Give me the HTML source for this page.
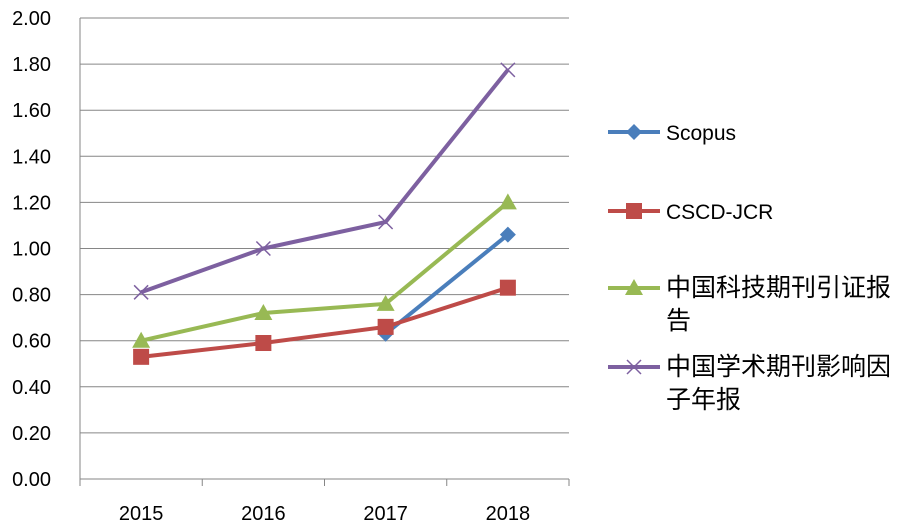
<!DOCTYPE html>
<html><head><meta charset="utf-8"><style>
body{margin:0;background:#fff;}
svg{display:block;font-family:"Liberation Sans","Noto Sans CJK SC",sans-serif;}
</style></head><body>
<svg id="chart" width="905" height="528"></svg>
<script>
const categories=["2015","2016","2017","2018"];
const scopus=[null,null,0.63,1.06];
const cscd=[0.53,0.59,0.66,0.83];
const cstpcd=[0.60,0.72,0.76,1.20];
const cajcd=[0.81,1.00,1.115,1.775];
const yTicks=[0,0.2,0.4,0.6,0.8,1.0,1.2,1.4,1.6,1.8,2.0];
const seriesNames=["Scopus","CSCD-JCR","中国科技期刊引证报告","中国学术期刊影响因子年报"];
const NS="http://www.w3.org/2000/svg";
const svg=document.getElementById('chart');
const L=80,R=569,T=18,B=479;
const y=v=>B-(v/2)*(B-T);
const bw=(R-L)/categories.length;
const x=i=>L+bw*(i+0.5);
function el(t,a,p){const e=document.createElementNS(NS,t);for(const k in a)e.setAttribute(k,a[k]);(p||svg).appendChild(e);return e;}
yTicks.forEach(v=>{
 const g=el('line',{x1:L,x2:R,y1:y(v),y2:y(v),stroke:'#868686','stroke-width':1});
 
 
 const t=el('text',{x:51,y:y(v)+7,'text-anchor':'end','font-size':20,fill:'#000'});
 t.textContent=v.toFixed(2);
 
 
});
const ax=el('line',{x1:L,x2:L,y1:T,y2:B,stroke:'#868686'});


for(let i=0;i<=categories.length;i++){
 const tk=el('line',{x1:L+bw*i,x2:L+bw*i,y1:B,y2:B+7,stroke:'#868686'});
 
 
}
categories.forEach((c,i)=>{
 const t=el('text',{x:x(i),y:520,'text-anchor':'middle','font-size':20});
 t.textContent=c;
 
 
});
function marker(kind,cx,cy,color,g){
 let m;
 if(kind==='d')m=el('polygon',{points:`${cx},${cy-8} ${cx+8},${cy} ${cx},${cy+8} ${cx-8},${cy}`,fill:color},g);
 else if(kind==='s')m=el('rect',{x:cx-8,y:cy-8,width:16,height:16,fill:color},g);
 else if(kind==='t')m=el('polygon',{points:`${cx},${cy-9} ${cx+9},${cy+7} ${cx-9},${cy+7}`,fill:color},g);
 else{m=el('path',{d:`M${cx-7},${cy-7}L${cx+7},${cy+7}M${cx+7},${cy-7}L${cx-7},${cy+7}`,stroke:color,'stroke-width':1.5,fill:'none'},g);}
 
 
}
const series=[[scopus,'#4a7ebb','d'],[cscd,'#be4b48','s'],[cstpcd,'#98b954','t'],[cajcd,'#7d60a0','x']];
series.forEach(([vals,color,kind],si)=>{
 const g=el('g',{});
 
 
 let d='';
 vals.forEach((v,i)=>{if(v!==null)d+=(d?'L':'M')+x(i)+','+y(v);});
 const p=el('path',{d:d,stroke:color,'stroke-width':4,fill:'none','stroke-linejoin':'round'},g);
 
 
 vals.forEach((v,i)=>{if(v!==null)marker(kind,x(i),y(v),color,g);});
});
const legY=[132,211,288,367];
series.forEach(([vals,color,kind],si)=>{
 const g=el('g',{});
 
 
 el('line',{x1:608,x2:660,y1:legY[si],y2:legY[si],stroke:color,'stroke-width':4},g);
 marker(kind,634,legY[si],color,g);
 const name=seriesNames[si];
 const cjk=name.length>8;
 const lines=cjk?[name.slice(0,name.length-(si===2?1:3)),name.slice(name.length-(si===2?1:3))]:[name];
 lines.forEach((ln,k)=>{
  const t=el('text',{x:666,y:legY[si]+8+k*33,'font-size':cjk?25:21},g);
  t.textContent=ln;
 });
});
</script>
</body></html>
